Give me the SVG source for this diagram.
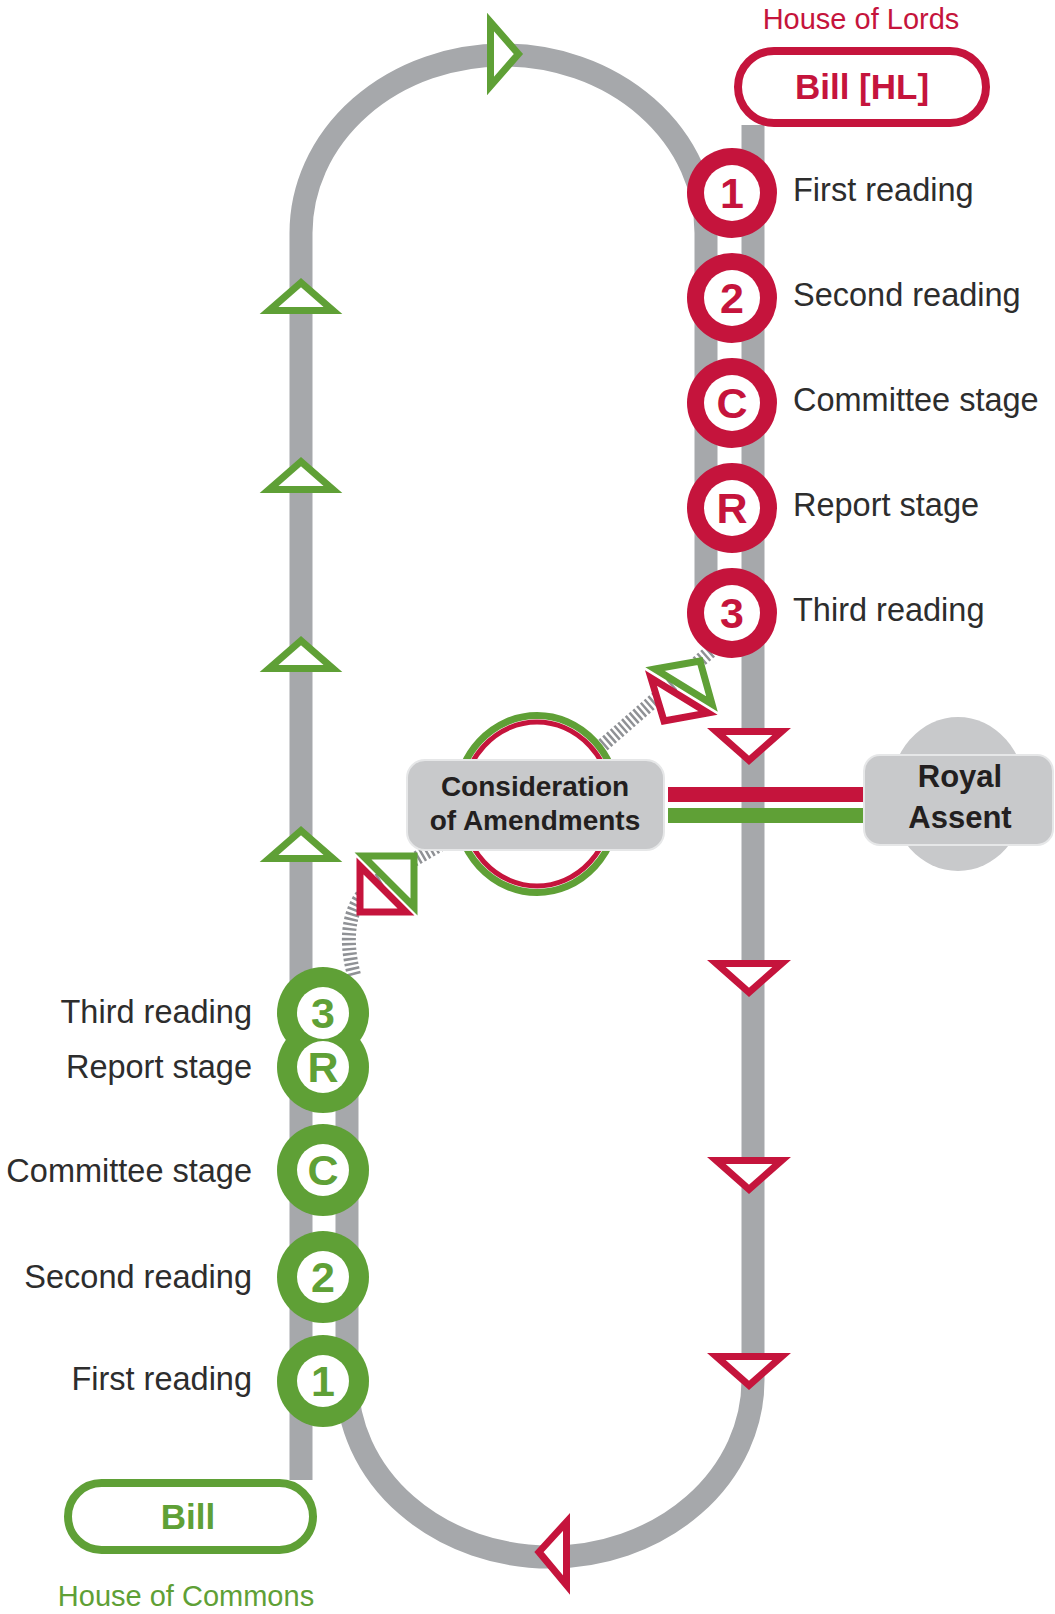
<svg xmlns="http://www.w3.org/2000/svg" xmlns:xlink="http://www.w3.org/1999/xlink" width="1055" height="1614" viewBox="0 0 1055 1614">
<style>
.track{fill:none;stroke:#a6a8ab;stroke-width:23}
.hatch{fill:none;stroke:#8f9195;stroke-width:14;stroke-dasharray:2.5 2.5}
.tg{fill:#fff;stroke:#5fa036;stroke-width:7;stroke-linejoin:miter}
.tr{fill:#fff;stroke:#c5143c;stroke-width:7;stroke-linejoin:miter}
.lbl{font-family:"Liberation Sans",Arial,sans-serif;font-size:32.5px;fill:#2d2d2d}
.num{font-family:"Liberation Sans",Arial,sans-serif;font-size:43px;font-weight:bold;text-anchor:middle}
.box{fill:#c8c9cb;stroke:#e6e7e8;stroke-width:2}
.boxtxt{font-family:"Liberation Sans",Arial,sans-serif;font-weight:bold;fill:#231f20;text-anchor:middle}
.red{fill:#c5143c}
.green{fill:#5fa036}
.white{fill:#fff}
</style>
<defs>
<path id="triUp" d="M-32,32.5 L32,32.5 L0,4.6 Z"/>
<path id="triDown" d="M-32.7,3.5 L32.7,3.5 L0,32.3 Z"/>
</defs>
<rect width="1055" height="1614" fill="#fff"/>
<g id="connectors">
  <path class="track" d="M301,1480 L301,233 A202.5,178 0 0 1 706,233 L706,613"/>
  <path class="track" d="M753,125 L753,1380 A203,177 0 0 1 347,1380 L347,1013"/>
  <path class="hatch" d="M354,975 Q338,915 372,884 L448,840"/>
  <path class="hatch" d="M603,745 L712,650"/>
  <use xlink:href="#triUp" class="tg" x="301" y="278"/>
  <use xlink:href="#triUp" class="tg" x="301" y="457"/>
  <use xlink:href="#triUp" class="tg" x="301" y="636"/>
  <use xlink:href="#triUp" class="tg" x="301" y="826"/>
  <path class="tg" d="M490.5,22 L490.5,86 L518.4,54 Z"/>
  <use xlink:href="#triDown" class="tr" x="749" y="728"/>
  <use xlink:href="#triDown" class="tr" x="749" y="960"/>
  <use xlink:href="#triDown" class="tr" x="749" y="1157"/>
  <use xlink:href="#triDown" class="tr" x="749" y="1353"/>
  <path class="tr" d="M566.5,1522 L566.5,1585 L539,1552 Z"/>
  <path class="tg" d="M363,856 L414,856 L414,907 Z"/>
  <path class="tr" d="M360,866 L360,912 L406,912 Z"/>
  <path class="tg" d="M655,669 L700,661 L712,704 Z"/>
  <path class="tr" d="M651,678 L664,721 L708,713 Z"/>
  <rect x="668" y="787" width="197" height="15" class="red"/>
  <rect x="668" y="808" width="197" height="15" class="green"/>
</g>
<g id="consideration">
  <ellipse cx="537" cy="804" rx="81.5" ry="88.5" fill="#fff" stroke="#5fa036" stroke-width="7"/>
  <ellipse cx="537" cy="804" rx="75" ry="82" fill="none" stroke="#c5143c" stroke-width="5"/>
  <rect class="box" x="407" y="760" width="257" height="90" rx="18"/>
  <text class="boxtxt" x="535" y="796" font-size="28">Consideration</text>
  <text class="boxtxt" x="535" y="830" font-size="28">of Amendments</text>
</g>
<g id="royal-assent">
  <ellipse cx="958" cy="794" rx="68" ry="77" fill="#c8c9cb"/>
  <rect class="box" x="864" y="755" width="189" height="90" rx="16"/>
  <text class="boxtxt" x="960" y="787" font-size="31">Royal</text>
  <text class="boxtxt" x="960" y="828" font-size="31">Assent</text>
</g>
<g id="bill-hl">
  <text x="861" y="29" text-anchor="middle" font-family="Liberation Sans, Arial, sans-serif" font-size="29" fill="#c5143c">House of Lords</text>
  <rect x="738" y="51" width="248" height="72" rx="36" fill="#fff" stroke="#c5143c" stroke-width="8"/>
  <text x="862" y="99" text-anchor="middle" font-family="Liberation Sans, Arial, sans-serif" font-size="35" font-weight="bold" fill="#c5143c">Bill [HL]</text>
</g>
<g id="lords-1"><circle cx="732" cy="193" r="45" class="red"/><circle cx="732" cy="193" r="28" class="white"/><text class="num red" x="732" y="208">1</text><text class="lbl" x="793" y="201">First reading</text></g>
<g id="lords-2"><circle cx="732" cy="298" r="45" class="red"/><circle cx="732" cy="298" r="28" class="white"/><text class="num red" x="732" y="313">2</text><text class="lbl" x="793" y="306">Second reading</text></g>
<g id="lords-c"><circle cx="732" cy="403" r="45" class="red"/><circle cx="732" cy="403" r="28" class="white"/><text class="num red" x="732" y="418">C</text><text class="lbl" x="793" y="411">Committee stage</text></g>
<g id="lords-r"><circle cx="732" cy="508" r="45" class="red"/><circle cx="732" cy="508" r="28" class="white"/><text class="num red" x="732" y="523">R</text><text class="lbl" x="793" y="516">Report stage</text></g>
<g id="lords-3"><circle cx="732" cy="613" r="45" class="red"/><circle cx="732" cy="613" r="28" class="white"/><text class="num red" x="732" y="628">3</text><text class="lbl" x="793" y="621">Third reading</text></g>
<g id="commons-3r">
  <circle cx="323" cy="1013" r="46" class="green"/><circle cx="323" cy="1067" r="46" class="green"/>
  <circle cx="323" cy="1013" r="26" class="white"/><circle cx="323" cy="1067" r="26" class="white"/>
  <text class="num green" x="323" y="1028">3</text><text class="num green" x="323" y="1082">R</text>
  <text class="lbl" x="252" y="1023" text-anchor="end">Third reading</text>
  <text class="lbl" x="252" y="1078" text-anchor="end">Report stage</text>
</g>
<g id="commons-c"><circle cx="323" cy="1170" r="46" class="green"/><circle cx="323" cy="1170" r="26" class="white"/><text class="num green" x="323" y="1185">C</text><text class="lbl" x="252" y="1182" text-anchor="end">Committee stage</text></g>
<g id="commons-2"><circle cx="323" cy="1277" r="46" class="green"/><circle cx="323" cy="1277" r="26" class="white"/><text class="num green" x="323" y="1292">2</text><text class="lbl" x="252" y="1288" text-anchor="end">Second reading</text></g>
<g id="commons-1"><circle cx="323" cy="1381" r="46" class="green"/><circle cx="323" cy="1381" r="26" class="white"/><text class="num green" x="323" y="1396">1</text><text class="lbl" x="252" y="1390" text-anchor="end">First reading</text></g>
<g id="bill-commons">
  <rect x="68" y="1483" width="245" height="67" rx="33.5" fill="#fff" stroke="#5fa036" stroke-width="8"/>
  <text x="188" y="1529" text-anchor="middle" font-family="Liberation Sans, Arial, sans-serif" font-size="35" font-weight="bold" fill="#5fa036">Bill</text>
  <text x="186" y="1606" text-anchor="middle" font-family="Liberation Sans, Arial, sans-serif" font-size="29" fill="#5fa036">House of Commons</text>
</g>
</svg>
